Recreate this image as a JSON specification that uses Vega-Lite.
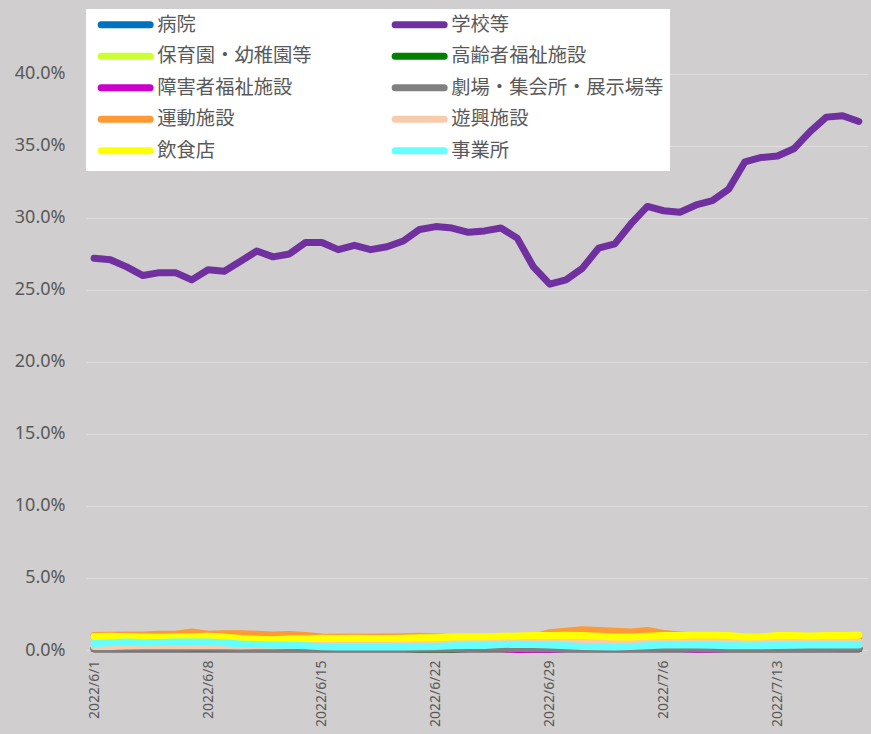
{
  "$schema": "https://vega.github.io/schema/vega-lite/v6.json",
  "autosize": {"type": "none"},
  "padding": {"left": 86, "top": 12, "right": 4, "bottom": 84},
  "width": 781,
  "height": 638,
  "background": "#D0CECE",
  "config": {
    "view": {"stroke": null, "fill": "#D0CECE"},
    "font": "Noto Sans"
  },
  "data": {
    "values": [
      {"d":"2022/6/1","病院":0.0008,"学校等":0.272,"保育園・幼稚園等":0.0008,"高齢者福祉施設":0.0008,"障害者福祉施設":0.0008,"劇場・集会所・展示場等":0.0010,"運動施設":0.0100,"遊興施設":0.0025,"飲食店":0.0093,"事業所":0.0045},
      {"d":"2022/6/2","病院":0.0008,"学校等":0.271,"保育園・幼稚園等":0.0008,"高齢者福祉施設":0.0008,"障害者福祉施設":0.0008,"劇場・集会所・展示場等":0.0011,"運動施設":0.0102,"遊興施設":0.0025,"飲食店":0.0095,"事業所":0.0050},
      {"d":"2022/6/3","病院":0.0008,"学校等":0.266,"保育園・幼稚園等":0.0008,"高齢者福祉施設":0.0008,"障害者福祉施設":0.0008,"劇場・集会所・展示場等":0.0012,"運動施設":0.0105,"遊興施設":0.0028,"飲食店":0.0092,"事業所":0.0055},
      {"d":"2022/6/4","病院":0.0008,"学校等":0.260,"保育園・幼稚園等":0.0008,"高齢者福祉施設":0.0008,"障害者福祉施設":0.0008,"劇場・集会所・展示場等":0.0012,"運動施設":0.0105,"遊興施設":0.0030,"飲食店":0.0090,"事業所":0.0050},
      {"d":"2022/6/5","病院":0.0008,"学校等":0.262,"保育園・幼稚園等":0.0008,"高齢者福祉施設":0.0008,"障害者福祉施設":0.0008,"劇場・集会所・展示場等":0.0013,"運動施設":0.0110,"遊興施設":0.0030,"飲食店":0.0088,"事業所":0.0052},
      {"d":"2022/6/6","病院":0.0008,"学校等":0.262,"保育園・幼稚園等":0.0008,"高齢者福祉施設":0.0008,"障害者福祉施設":0.0008,"劇場・集会所・展示場等":0.0013,"運動施設":0.0110,"遊興施設":0.0030,"飲食店":0.0090,"事業所":0.0055},
      {"d":"2022/6/7","病院":0.0008,"学校等":0.257,"保育園・幼稚園等":0.0008,"高齢者福祉施設":0.0008,"障害者福祉施設":0.0008,"劇場・集会所・展示場等":0.0014,"運動施設":0.0125,"遊興施設":0.0032,"飲食店":0.0092,"事業所":0.0055},
      {"d":"2022/6/8","病院":0.0008,"学校等":0.264,"保育園・幼稚園等":0.0008,"高齢者福祉施設":0.0008,"障害者福祉施設":0.0008,"劇場・集会所・展示場等":0.0014,"運動施設":0.0110,"遊興施設":0.0030,"飲食店":0.0095,"事業所":0.0055},
      {"d":"2022/6/9","病院":0.0008,"学校等":0.263,"保育園・幼稚園等":0.0008,"高齢者福祉施設":0.0008,"障害者福祉施設":0.0008,"劇場・集会所・展示場等":0.0013,"運動施設":0.0112,"遊興施設":0.0030,"飲食店":0.0090,"事業所":0.0050},
      {"d":"2022/6/10","病院":0.0008,"学校等":0.270,"保育園・幼稚園等":0.0008,"高齢者福祉施設":0.0008,"障害者福祉施設":0.0008,"劇場・集会所・展示場等":0.0010,"運動施設":0.0112,"遊興施設":0.0028,"飲食店":0.0080,"事業所":0.0042},
      {"d":"2022/6/11","病院":0.0008,"学校等":0.277,"保育園・幼稚園等":0.0008,"高齢者福祉施設":0.0008,"障害者福祉施設":0.0008,"劇場・集会所・展示場等":0.0009,"運動施設":0.0110,"遊興施設":0.0030,"飲食店":0.0075,"事業所":0.0038},
      {"d":"2022/6/12","病院":0.0008,"学校等":0.273,"保育園・幼稚園等":0.0008,"高齢者福祉施設":0.0008,"障害者福祉施設":0.0008,"劇場・集会所・展示場等":0.0008,"運動施設":0.0105,"遊興施設":0.0030,"飲食店":0.0072,"事業所":0.0035},
      {"d":"2022/6/13","病院":0.0008,"学校等":0.275,"保育園・幼稚園等":0.0008,"高齢者福祉施設":0.0008,"障害者福祉施設":0.0008,"劇場・集会所・展示場等":0.0008,"運動施設":0.0108,"遊興施設":0.0032,"飲食店":0.0078,"事業所":0.0033},
      {"d":"2022/6/14","病院":0.0008,"学校等":0.283,"保育園・幼稚園等":0.0008,"高齢者福祉施設":0.0008,"障害者福祉施設":0.0008,"劇場・集会所・展示場等":0.0008,"運動施設":0.0100,"遊興施設":0.0035,"飲食店":0.0078,"事業所":0.0030},
      {"d":"2022/6/15","病院":0.0008,"学校等":0.283,"保育園・幼稚園等":0.0008,"高齢者福祉施設":0.0008,"障害者福祉施設":0.0008,"劇場・集会所・展示場等":0.0008,"運動施設":0.0090,"遊興施設":0.0040,"飲食店":0.0082,"事業所":0.0022},
      {"d":"2022/6/16","病院":0.0008,"学校等":0.278,"保育園・幼稚園等":0.0008,"高齢者福祉施設":0.0008,"障害者福祉施設":0.0008,"劇場・集会所・展示場等":0.0008,"運動施設":0.0088,"遊興施設":0.0045,"飲食店":0.0080,"事業所":0.0020},
      {"d":"2022/6/17","病院":0.0008,"学校等":0.281,"保育園・幼稚園等":0.0008,"高齢者福祉施設":0.0008,"障害者福祉施設":0.0008,"劇場・集会所・展示場等":0.0008,"運動施設":0.0090,"遊興施設":0.0045,"飲食店":0.0082,"事業所":0.0020},
      {"d":"2022/6/18","病院":0.0008,"学校等":0.278,"保育園・幼稚園等":0.0008,"高齢者福祉施設":0.0008,"障害者福祉施設":0.0008,"劇場・集会所・展示場等":0.0008,"運動施設":0.0088,"遊興施設":0.0045,"飲食店":0.0080,"事業所":0.0020},
      {"d":"2022/6/19","病院":0.0008,"学校等":0.280,"保育園・幼稚園等":0.0008,"高齢者福祉施設":0.0008,"障害者福祉施設":0.0008,"劇場・集会所・展示場等":0.0008,"運動施設":0.0090,"遊興施設":0.0045,"飲食店":0.0080,"事業所":0.0020},
      {"d":"2022/6/20","病院":0.0008,"学校等":0.284,"保育園・幼稚園等":0.0008,"高齢者福祉施設":0.0008,"障害者福祉施設":0.0008,"劇場・集会所・展示場等":0.0008,"運動施設":0.0092,"遊興施設":0.0050,"飲食店":0.0082,"事業所":0.0020},
      {"d":"2022/6/21","病院":0.0008,"学校等":0.292,"保育園・幼稚園等":0.0008,"高齢者福祉施設":0.0006,"障害者福祉施設":0.0008,"劇場・集会所・展示場等":0.0008,"運動施設":0.0095,"遊興施設":0.0050,"飲食店":0.0085,"事業所":0.0022},
      {"d":"2022/6/22","病院":0.0008,"学校等":0.294,"保育園・幼稚園等":0.0008,"高齢者福祉施設":0.0005,"障害者福祉施設":0.0008,"劇場・集会所・展示場等":0.0008,"運動施設":0.0090,"遊興施設":0.0050,"飲食店":0.0085,"事業所":0.0025},
      {"d":"2022/6/23","病院":0.0008,"学校等":0.293,"保育園・幼稚園等":0.0008,"高齢者福祉施設":0.0006,"障害者福祉施設":0.0008,"劇場・集会所・展示場等":0.0010,"運動施設":0.0085,"遊興施設":0.0050,"飲食店":0.0090,"事業所":0.0030},
      {"d":"2022/6/24","病院":0.0008,"学校等":0.290,"保育園・幼稚園等":0.0008,"高齢者福祉施設":0.0008,"障害者福祉施設":0.0008,"劇場・集会所・展示場等":0.0010,"運動施設":0.0082,"遊興施設":0.0050,"飲食店":0.0092,"事業所":0.0032},
      {"d":"2022/6/25","病院":0.0008,"学校等":0.291,"保育園・幼稚園等":0.0008,"高齢者福祉施設":0.0008,"障害者福祉施設":0.0008,"劇場・集会所・展示場等":0.0012,"運動施設":0.0082,"遊興施設":0.0050,"飲食店":0.0092,"事業所":0.0032},
      {"d":"2022/6/26","病院":0.0008,"学校等":0.293,"保育園・幼稚園等":0.0008,"高齢者福祉施設":0.0008,"障害者福祉施設":0.0008,"劇場・集会所・展示場等":0.0012,"運動施設":0.0082,"遊興施設":0.0050,"飲食店":0.0095,"事業所":0.0038},
      {"d":"2022/6/27","病院":0.0008,"学校等":0.286,"保育園・幼稚園等":0.0008,"高齢者福祉施設":0.0008,"障害者福祉施設":0.0004,"劇場・集会所・展示場等":0.0010,"運動施設":0.0085,"遊興施設":0.0055,"飲食店":0.0098,"事業所":0.0040},
      {"d":"2022/6/28","病院":0.0008,"学校等":0.266,"保育園・幼稚園等":0.0008,"高齢者福祉施設":0.0008,"障害者福祉施設":0.0003,"劇場・集会所・展示場等":0.0009,"運動施設":0.0090,"遊興施設":0.0055,"飲食店":0.0100,"事業所":0.0038},
      {"d":"2022/6/29","病院":0.0008,"学校等":0.254,"保育園・幼稚園等":0.0008,"高齢者福祉施設":0.0008,"障害者福祉施設":0.0004,"劇場・集会所・展示場等":0.0009,"運動施設":0.0120,"遊興施設":0.0060,"飲食店":0.0100,"事業所":0.0035},
      {"d":"2022/6/30","病院":0.0008,"学校等":0.257,"保育園・幼稚園等":0.0008,"高齢者福祉施設":0.0008,"障害者福祉施設":0.0008,"劇場・集会所・展示場等":0.0008,"運動施設":0.0130,"遊興施設":0.0060,"飲食店":0.0102,"事業所":0.0030},
      {"d":"2022/7/1","病院":0.0008,"学校等":0.265,"保育園・幼稚園等":0.0008,"高齢者福祉施設":0.0008,"障害者福祉施設":0.0008,"劇場・集会所・展示場等":0.0008,"運動施設":0.0140,"遊興施設":0.0060,"飲食店":0.0100,"事業所":0.0025},
      {"d":"2022/7/2","病院":0.0008,"学校等":0.279,"保育園・幼稚園等":0.0008,"高齢者福祉施設":0.0008,"障害者福祉施設":0.0008,"劇場・集会所・展示場等":0.0008,"運動施設":0.0135,"遊興施設":0.0055,"飲食店":0.0095,"事業所":0.0022},
      {"d":"2022/7/3","病院":0.0008,"学校等":0.282,"保育園・幼稚園等":0.0008,"高齢者福祉施設":0.0008,"障害者福祉施設":0.0008,"劇場・集会所・展示場等":0.0008,"運動施設":0.0130,"遊興施設":0.0055,"飲食店":0.0090,"事業所":0.0020},
      {"d":"2022/7/4","病院":0.0008,"学校等":0.296,"保育園・幼稚園等":0.0008,"高齢者福祉施設":0.0008,"障害者福祉施設":0.0008,"劇場・集会所・展示場等":0.0008,"運動施設":0.0125,"遊興施設":0.0055,"飲食店":0.0090,"事業所":0.0025},
      {"d":"2022/7/5","病院":0.0008,"学校等":0.308,"保育園・幼稚園等":0.0008,"高齢者福祉施設":0.0008,"障害者福祉施設":0.0008,"劇場・集会所・展示場等":0.0010,"運動施設":0.0135,"遊興施設":0.0055,"飲食店":0.0095,"事業所":0.0030},
      {"d":"2022/7/6","病院":0.0008,"学校等":0.305,"保育園・幼稚園等":0.0008,"高齢者福祉施設":0.0008,"障害者福祉施設":0.0008,"劇場・集会所・展示場等":0.0012,"運動施設":0.0115,"遊興施設":0.0055,"飲食店":0.0100,"事業所":0.0035},
      {"d":"2022/7/7","病院":0.0008,"学校等":0.304,"保育園・幼稚園等":0.0008,"高齢者福祉施設":0.0008,"障害者福祉施設":0.0008,"劇場・集会所・展示場等":0.0012,"運動施設":0.0105,"遊興施設":0.0055,"飲食店":0.0100,"事業所":0.0035},
      {"d":"2022/7/8","病院":0.0008,"学校等":0.309,"保育園・幼稚園等":0.0008,"高齢者福祉施設":0.0008,"障害者福祉施設":0.0006,"劇場・集会所・展示場等":0.0010,"運動施設":0.0095,"遊興施設":0.0055,"飲食店":0.0102,"事業所":0.0035},
      {"d":"2022/7/9","病院":0.0008,"学校等":0.312,"保育園・幼稚園等":0.0008,"高齢者福祉施設":0.0008,"障害者福祉施設":0.0006,"劇場・集会所・展示場等":0.0008,"運動施設":0.0090,"遊興施設":0.0055,"飲食店":0.0102,"事業所":0.0033},
      {"d":"2022/7/10","病院":0.0008,"学校等":0.320,"保育園・幼稚園等":0.0008,"高齢者福祉施設":0.0008,"障害者福祉施設":0.0008,"劇場・集会所・展示場等":0.0008,"運動施設":0.0090,"遊興施設":0.0055,"飲食店":0.0100,"事業所":0.0030},
      {"d":"2022/7/11","病院":0.0008,"学校等":0.339,"保育園・幼稚園等":0.0008,"高齢者福祉施設":0.0008,"障害者福祉施設":0.0008,"劇場・集会所・展示場等":0.0008,"運動施設":0.0085,"遊興施設":0.0055,"飲食店":0.0090,"事業所":0.0030},
      {"d":"2022/7/12","病院":0.0008,"学校等":0.342,"保育園・幼稚園等":0.0008,"高齢者福祉施設":0.0008,"障害者福祉施設":0.0008,"劇場・集会所・展示場等":0.0008,"運動施設":0.0085,"遊興施設":0.0055,"飲食店":0.0092,"事業所":0.0030},
      {"d":"2022/7/13","病院":0.0008,"学校等":0.343,"保育園・幼稚園等":0.0008,"高齢者福祉施設":0.0008,"障害者福祉施設":0.0008,"劇場・集会所・展示場等":0.0008,"運動施設":0.0088,"遊興施設":0.0055,"飲食店":0.0100,"事業所":0.0032},
      {"d":"2022/7/14","病院":0.0008,"学校等":0.348,"保育園・幼稚園等":0.0008,"高齢者福祉施設":0.0008,"障害者福祉施設":0.0008,"劇場・集会所・展示場等":0.0008,"運動施設":0.0088,"遊興施設":0.0055,"飲食店":0.0100,"事業所":0.0033},
      {"d":"2022/7/15","病院":0.0008,"学校等":0.360,"保育園・幼稚園等":0.0008,"高齢者福祉施設":0.0008,"障害者福祉施設":0.0008,"劇場・集会所・展示場等":0.0009,"運動施設":0.0088,"遊興施設":0.0055,"飲食店":0.0098,"事業所":0.0035},
      {"d":"2022/7/16","病院":0.0008,"学校等":0.370,"保育園・幼稚園等":0.0008,"高齢者福祉施設":0.0008,"障害者福祉施設":0.0008,"劇場・集会所・展示場等":0.0010,"運動施設":0.0088,"遊興施設":0.0055,"飲食店":0.0100,"事業所":0.0035},
      {"d":"2022/7/17","病院":0.0008,"学校等":0.371,"保育園・幼稚園等":0.0008,"高齢者福祉施設":0.0008,"障害者福祉施設":0.0008,"劇場・集会所・展示場等":0.0012,"運動施設":0.0090,"遊興施設":0.0055,"飲食店":0.0100,"事業所":0.0035},
      {"d":"2022/7/18","病院":0.0008,"学校等":0.367,"保育園・幼稚園等":0.0008,"高齢者福祉施設":0.0008,"障害者福祉施設":0.0008,"劇場・集会所・展示場等":0.0012,"運動施設":0.0090,"遊興施設":0.0055,"飲食店":0.0102,"事業所":0.0035}
    ]
  },
  "transform": [
    {"fold": ["病院","学校等","保育園・幼稚園等","高齢者福祉施設","障害者福祉施設","劇場・集会所・展示場等","運動施設","遊興施設","飲食店","事業所"], "as": ["series","value"]}
  ],
  "mark": {"type": "line", "strokeWidth": 7, "strokeCap": "round", "strokeJoin": "round"},
  "encoding": {
    "x": {
      "field": "d", "type": "ordinal", "sort": null,
      "scale": {"type": "point", "padding": 0.5},
      "axis": {
        "title": null, "values": ["2022/6/1","2022/6/8","2022/6/15","2022/6/22","2022/6/29","2022/7/6","2022/7/13"],
        "labelAngle": -90, "labelFont": "Noto Sans", "labelFontSize": 14, "labelColor": "#595959",
        "labelPadding": 10, "ticks": false, "domain": false, "grid": false
      }
    },
    "y": {
      "field": "value", "type": "quantitative",
      "scale": {"domain": [0, 0.443], "nice": false},
      "axis": {
        "title": null, "values": [0,0.05,0.1,0.15,0.2,0.25,0.3,0.35,0.4], "format": ".1%",
        "labelFont": "Noto Sans", "labelFontSize": 18, "labelColor": "#595959", "labelPadding": 21,
        "ticks": false, "domain": false, "grid": true, "gridColor": "#E0DEDE", "gridWidth": 1.2
      }
    },
    "color": {
      "field": "series", "type": "nominal",
      "scale": {
        "domain": ["病院","学校等","保育園・幼稚園等","高齢者福祉施設","障害者福祉施設","劇場・集会所・展示場等","運動施設","遊興施設","飲食店","事業所"],
        "range": ["#0070C0","#7030A0","#CCFF33","#008000","#CC00CC","#808080","#FF9933","#F8CBAD","#FFFF00","#66FFFF"]
      },
      "legend": {
        "title": null, "orient": "none", "legendX": 0, "legendY": -3, "columns": 2, "direction": "horizontal",
        "fillColor": "white", "padding": 6, "symbolType": "M-0.1,0H9.7", "symbolSize": 100,
        "symbolStrokeWidth": 7, "labelFont": "Noto Sans CJK JP", "labelFontSize": 19.3, "labelColor": "#595959",
        "labelOffset": 46, "labelLimit": 300, "rowPadding": 2.5, "columnPadding": 69,
        "encode": {"symbols": {"update": {"strokeCap": {"value": "round"}}}}
      }
    }
  }
}
